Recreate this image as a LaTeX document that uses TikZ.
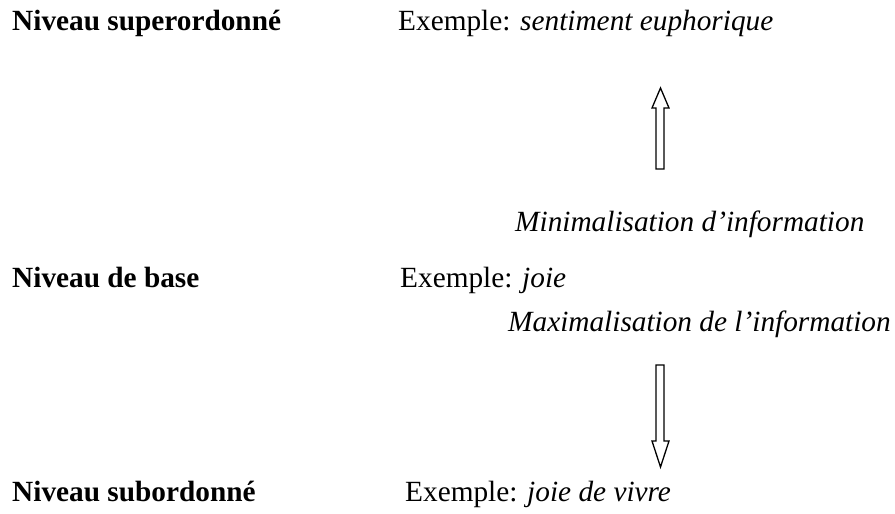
\documentclass[tikz,border=0pt]{standalone}
\usepackage{fontspec}
\setmainfont{Liberation Serif}
\begin{document}
\begin{tikzpicture}[x=1pt,y=1pt,
  txt/.style={anchor=base west, inner sep=0pt, font=\fontsize{29.3}{33}\selectfont},
  hollow/.style={draw=black, line width=1.3pt, fill=white, line join=miter}]
\useasboundingbox (0,0) rectangle (895,514);
% left column
\node[txt] (sup) at (12,483) {\textbf{Niveau superordonné}};
\node[txt] (base) at (12,226) {\textbf{Niveau de base}};
\node[txt] (sub) at (12,12) {\textbf{Niveau subordonné}};
% examples
\node[txt] (exsup) at (398,483) {Exemple: \textit{sentiment euphorique}};
\node[txt] (exbase) at (400,226) {Exemple: \textit{joie}};
\node[txt] (exsub) at (405,12) {Exemple: \textit{joie de vivre}};
% process labels
\node[txt] (mini) at (515,282) {\textit{Minimalisation d’information}};
\node[txt] (maxi) at (508,182) {\textit{Maximalisation de l’information}};
% up arrow
\draw[hollow] (656,345) -- (664,345) -- (664,406) -- (669,406) -- (660.5,426)
  -- (652,406) -- (656,406) -- cycle;
% down arrow
\draw[hollow] (656,149) -- (664,149) -- (664,73) -- (669,73) -- (660.5,47)
  -- (652,73) -- (656,73) -- cycle;
\end{tikzpicture}
\end{document}
